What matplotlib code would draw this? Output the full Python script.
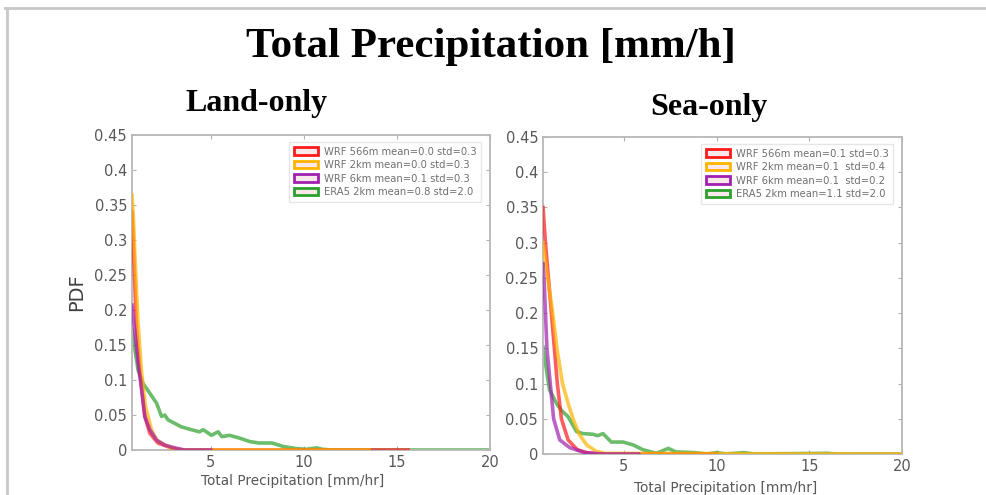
import matplotlib.pyplot as plt
from matplotlib.patches import Patch
from matplotlib.lines import Line2D

# ---- data ----
colors = ["#ff1a1a", "#ffb400", "#a020b0", "#2ca02c"]

land_labels = ["WRF 566m mean=0.0 std=0.3", "WRF 2km mean=0.0 std=0.3",
               "WRF 6km mean=0.1 std=0.3", "ERA5 2km mean=0.8 std=2.0"]
sea_labels = ["WRF 566m mean=0.1 std=0.3", "WRF 2km mean=0.1  std=0.4",
              "WRF 6km mean=0.1  std=0.2", "ERA5 2km mean=1.1 std=2.0"]

# Land-only
land_red_x = [0.77, 0.85, 1.0, 1.2, 1.46, 1.73, 2.16, 2.9, 3.5, 15.6]
land_red_y = [0.34, 0.29, 0.18, 0.11, 0.048, 0.024, 0.01, 0.003, 0.0, 0.0]
land_yel_x = [0.77, 0.85, 0.93, 1.1, 1.29, 1.5, 1.82, 2.1, 2.7, 3.3, 13.5]
land_yel_y = [0.364, 0.33, 0.276, 0.181, 0.11, 0.062, 0.029, 0.014, 0.005, 0.0, 0.0]
land_pur_x = [0.77, 0.93, 1.1, 1.29, 1.46, 1.73, 2.1, 2.53, 3.07, 3.6, 5.0]
land_pur_y = [0.207, 0.167, 0.124, 0.086, 0.048, 0.029, 0.014, 0.007, 0.003, 0.0, 0.0]
land_grn_x = [0.77, 1.1, 1.37, 1.73, 2.09, 2.36, 2.53, 2.71, 3.07, 3.43, 3.96,
              4.4, 4.6, 5.04, 5.4, 5.6, 6.0, 6.55, 7.1, 7.6, 8.3, 8.9, 9.6,
              10.1, 10.7, 11.0, 11.5, 20.0]
land_grn_y = [0.171, 0.114, 0.095, 0.081, 0.067, 0.048, 0.05, 0.043, 0.038,
              0.033, 0.029, 0.026, 0.029, 0.021, 0.026, 0.019, 0.021, 0.017,
              0.012, 0.01, 0.01, 0.005, 0.002, 0.001, 0.003, 0.001, 0.0, 0.0]

# Sea-only
sea_red_x = [0.65, 0.78, 0.94, 1.1, 1.26, 1.42, 1.64, 2.0, 2.5, 3.0, 3.5, 10.0]
sea_red_y = [0.35, 0.30, 0.25, 0.20, 0.15, 0.10, 0.05, 0.02, 0.006, 0.002, 0.0, 0.0]
sea_yel_x = [0.65, 0.9, 1.17, 1.4, 1.7, 2.0, 2.27, 2.6, 3.0, 3.5, 4.0, 20.0]
sea_yel_y = [0.30, 0.25, 0.20, 0.15, 0.10, 0.072, 0.05, 0.028, 0.013, 0.004, 0.001, 0.0]
sea_pur_x = [0.65, 0.72, 0.78, 0.86, 1.04, 1.22, 1.55, 2.09, 2.9, 4.0, 5.8]
sea_pur_y = [0.27, 0.24, 0.20, 0.15, 0.10, 0.05, 0.02, 0.009, 0.002, 0.0, 0.0]
sea_grn_x = [0.65, 0.83, 1.0, 1.37, 1.64, 2.0, 2.45, 2.8, 3.34, 3.6, 3.88, 4.33,
             4.96, 5.5, 6.04, 6.76, 7.4, 7.8, 8.8, 9.5, 10.0, 10.5, 11.5, 12.0,
             16.0, 16.4, 20.0]
sea_grn_y = [0.152, 0.12, 0.091, 0.072, 0.062, 0.053, 0.032, 0.029, 0.028, 0.026,
             0.029, 0.017, 0.017, 0.013, 0.006, 0.001, 0.008, 0.003, 0.002, 0.0,
             0.002, 0.0, 0.002, 0.0, 0.001, 0.0, 0.0]

yticks = [0, 0.05, 0.1, 0.15, 0.2, 0.25, 0.3, 0.35, 0.4, 0.45]
ytick_labels = ["0", "0.05", "0.1", "0.15", "0.2", "0.25", "0.3", "0.35", "0.4", "0.45"]
xticks = [5, 10, 15, 20]
xtick_labels = ["5", "10", "15", "20"]

fig = plt.figure(figsize=(9.87, 4.95), dpi=100)
fig.patch.set_facecolor("white")

# slide frame
fig.add_artist(Line2D([0.005, 1.0], [0.984, 0.984], transform=fig.transFigure,
                      color="#c8c8c8", lw=2))
fig.add_artist(Line2D([0.007, 0.007], [0.0, 0.984], transform=fig.transFigure,
                      color="#c8c8c8", lw=2))

fig.text(0.497, 0.905, "Total Precipitation [mm/h]", ha="center", va="center",
         fontsize=31, fontweight="bold", family="Liberation Serif")
fig.text(0.26, 0.79, "Land-only", ha="center", va="center",
         fontsize=23, fontweight="bold", family="Liberation Serif")
fig.text(0.718, 0.782, "Sea-only", ha="center", va="center",
         fontsize=23, fontweight="bold", family="Liberation Serif")

ax1 = fig.add_axes([0.1337, 0.0909, 0.3627, 0.6364])
ax2 = fig.add_axes([0.5502, 0.0828, 0.3637, 0.6404])

land = [(land_red_x, land_red_y), (land_yel_x, land_yel_y),
        (land_pur_x, land_pur_y), (land_grn_x, land_grn_y)]
sea = [(sea_red_x, sea_red_y), (sea_yel_x, sea_yel_y),
       (sea_pur_x, sea_pur_y), (sea_grn_x, sea_grn_y)]
zorders = [3, 4, 5, 2]

for ax, data, labels, x0 in [(ax1, land, land_labels, 0.77), (ax2, sea, sea_labels, 0.65)]:
    for (x, y), c, z in zip(data, colors, zorders):
        ax.plot(x, y, color=c, lw=2.6, alpha=0.7, zorder=z, solid_joinstyle="round")
    ax.set_xlim(x0, 20)
    ax.set_ylim(0, 0.45)
    ax.set_xticks(xticks)
    ax.set_xticklabels(xtick_labels)
    ax.set_yticks(yticks)
    ax.set_yticklabels(ytick_labels)
    ax.tick_params(direction="in", length=3, width=0.8, colors="#b0b0b0",
                   labelcolor="#585858", labelsize=10.5, top=True, right=True)
    for s in ax.spines.values():
        s.set_color("#b8b8b8")
        s.set_linewidth(1.3)
    ax.set_xlabel("Total Precipitation [mm/hr]", fontsize=9.8, color="#585858", labelpad=3)
    handles = [Patch(facecolor="#fbe8ea", edgecolor=c, lw=2) for c in colors]
    leg = ax.legend(handles, labels, loc="upper right", fontsize=7.2, frameon=True,
                    handlelength=2.4, handleheight=0.8, borderpad=0.5,
                    labelspacing=0.35, handletextpad=0.6, fancybox=False,
                    bbox_to_anchor=(0.99, 0.995))
    leg.get_frame().set_edgecolor("#e0e0e0")
    for t in leg.get_texts():
        t.set_color("#707070")

ax1.xaxis.set_label_coords(0.45, -0.075)
ax2.xaxis.set_label_coords(0.51, -0.085)
ax1.set_ylabel("PDF", fontsize=14, color="#404040", labelpad=6)

fig.savefig("out.png", dpi=100)
